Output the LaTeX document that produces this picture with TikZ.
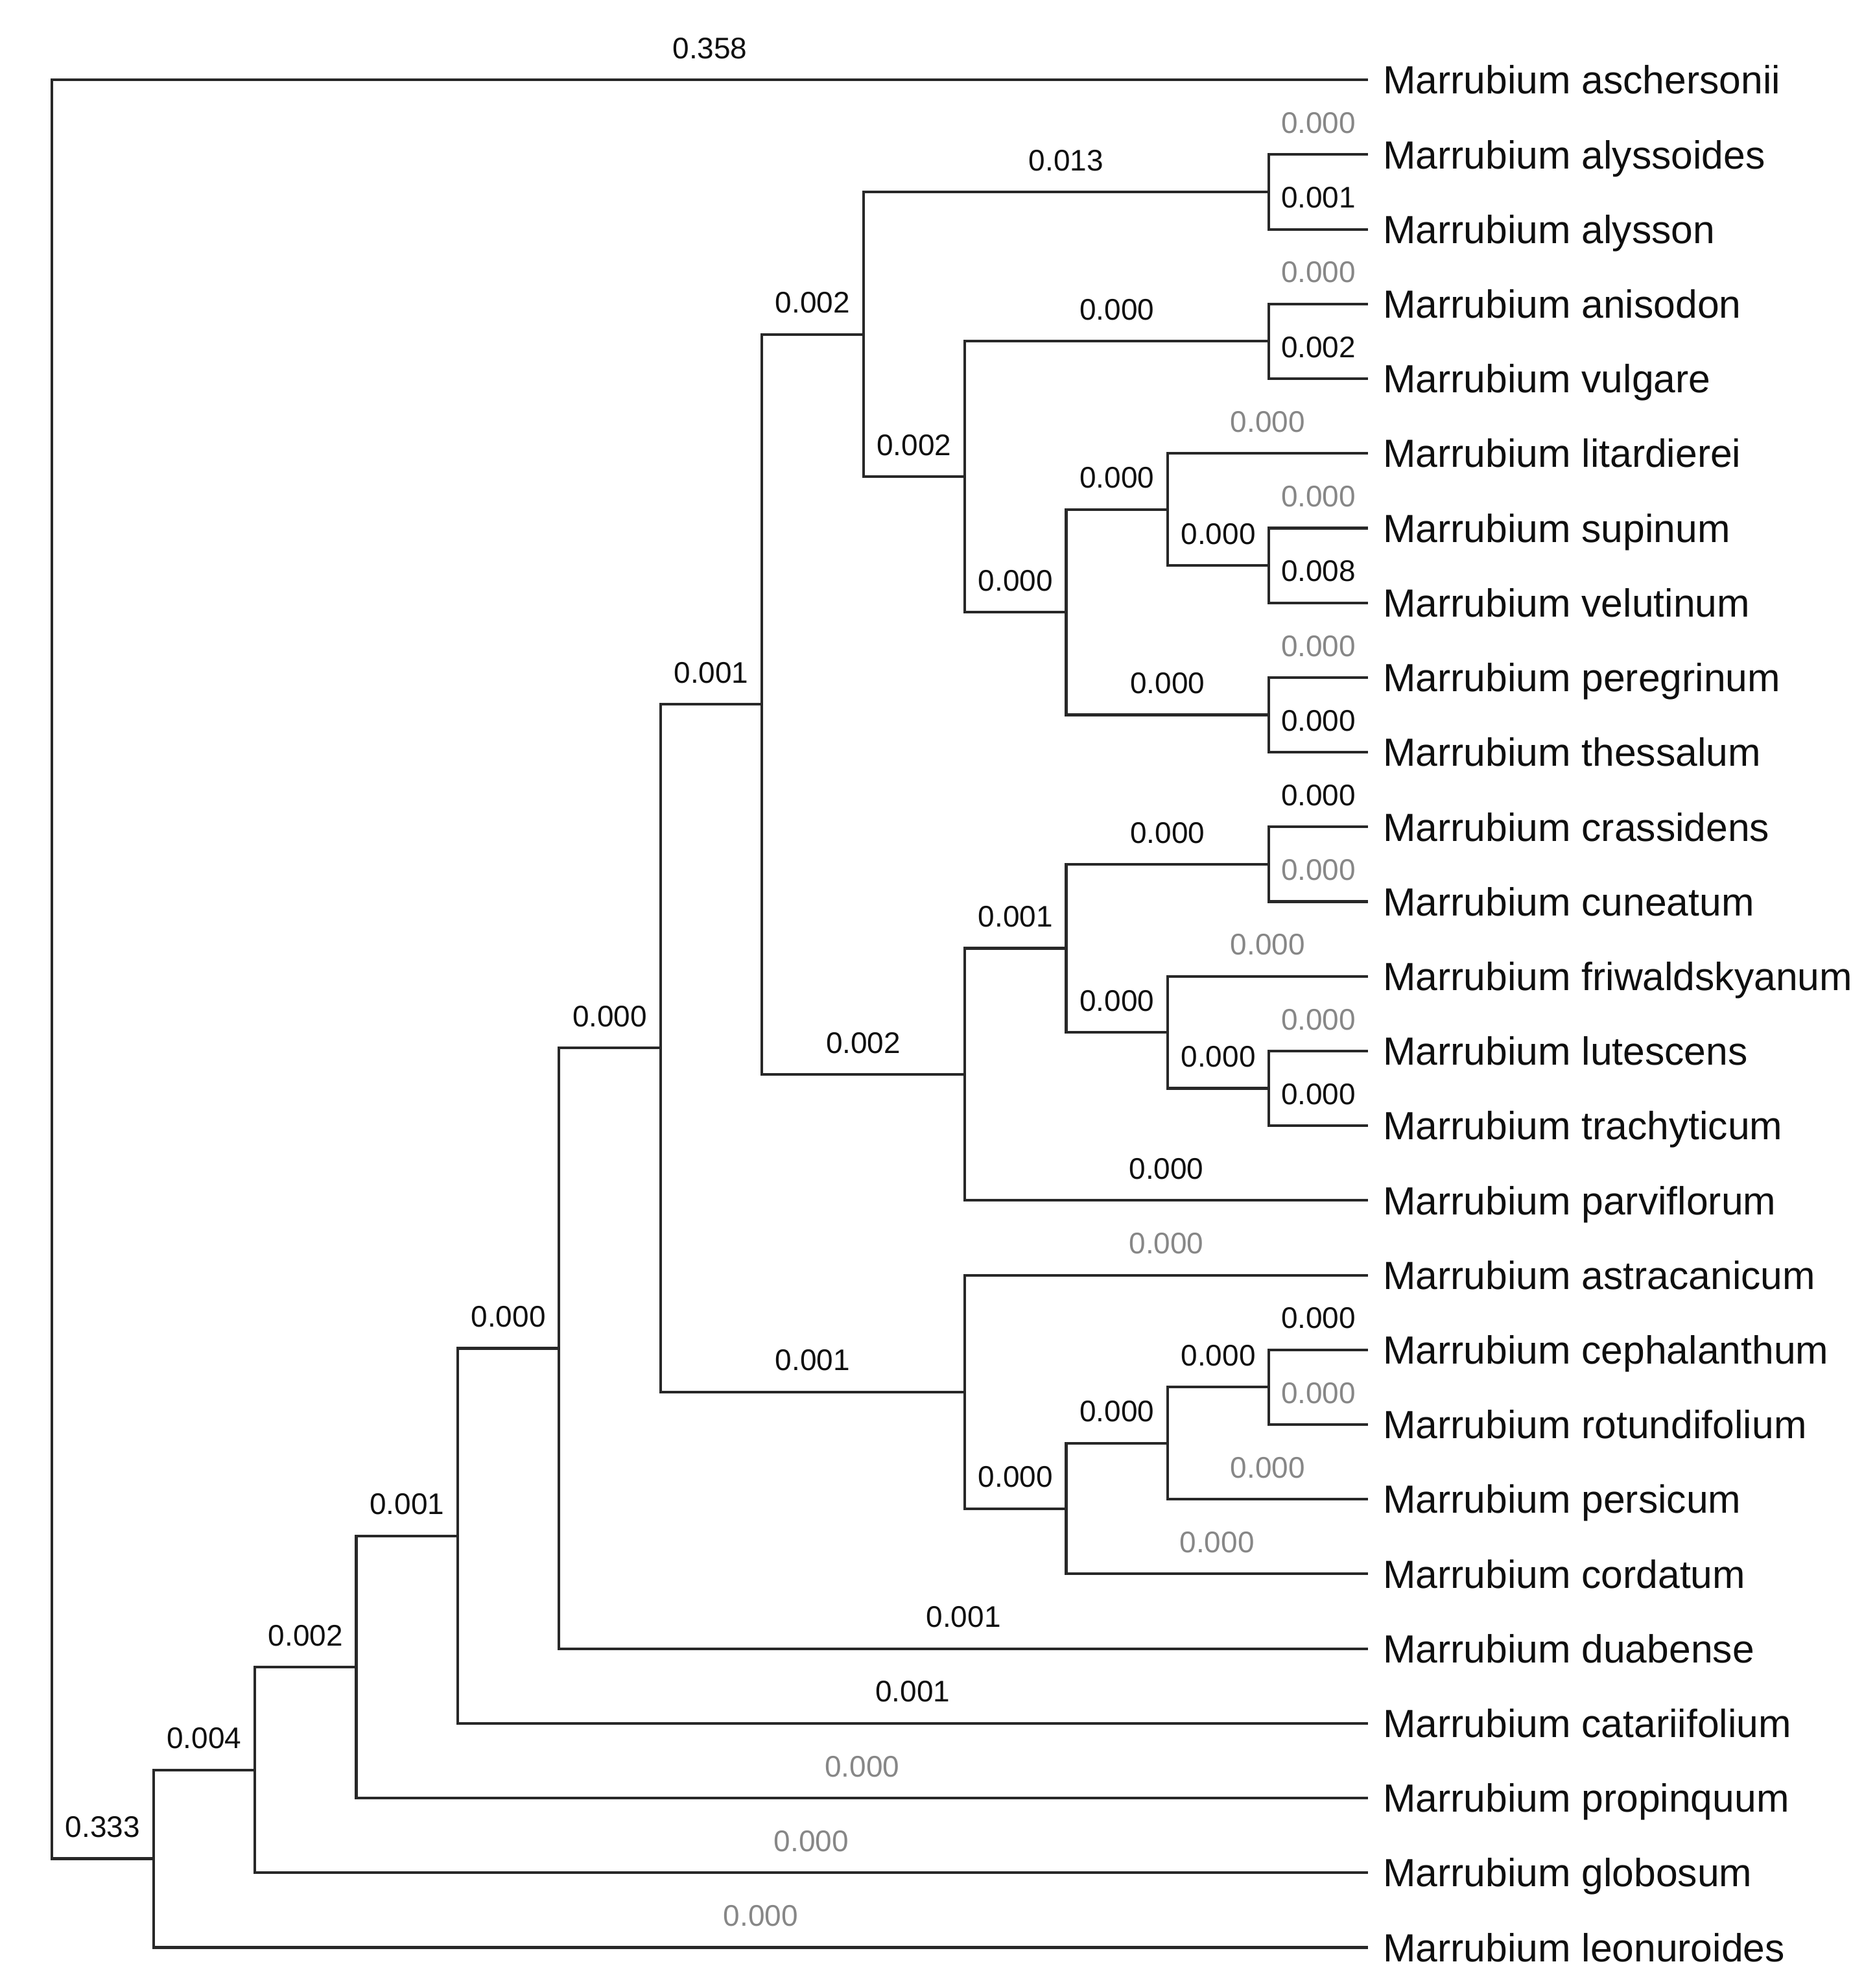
\documentclass[tikz,border=0pt]{standalone}
\usepackage{fontspec}
\newfontfamily\labfont{Liberation Sans}
\definecolor{branchcol}{RGB}{40,40,40}
\definecolor{numblack}{RGB}{15,15,15}
\definecolor{numgray}{RGB}{135,135,135}
\begin{document}
\begin{tikzpicture}[x=1pt,y=-1pt,
  br/.style={draw=branchcol,line width=2.1pt},
  lb/.style={pos=0.75,anchor=base,yshift=16.8pt,inner sep=0pt,text=numblack,font=\labfont\fontsize{23.5}{28}\selectfont},
  lg/.style={lb,text=numgray},
  taxon/.style={anchor=base west,yshift=-11.1pt,inner sep=0pt,text=numblack,font=\labfont\fontsize{31}{36}\selectfont}]
\useasboundingbox (0,0) rectangle (1479,1568);
% leaf tips
\coordinate (l0) at (1079,63);
\coordinate (l1) at (1079,121.92);
\coordinate (l2) at (1079,180.84);
\coordinate (l3) at (1079,239.76);
\coordinate (l4) at (1079,298.68);
\coordinate (l5) at (1079,357.6);
\coordinate (l6) at (1079,416.52);
\coordinate (l7) at (1079,475.44);
\coordinate (l8) at (1079,534.36);
\coordinate (l9) at (1079,593.28);
\coordinate (l10) at (1079,652.2);
\coordinate (l11) at (1079,711.12);
\coordinate (l12) at (1079,770.04);
\coordinate (l13) at (1079,828.96);
\coordinate (l14) at (1079,887.88);
\coordinate (l15) at (1079,946.8);
\coordinate (l16) at (1079,1005.72);
\coordinate (l17) at (1079,1064.64);
\coordinate (l18) at (1079,1123.56);
\coordinate (l19) at (1079,1182.48);
\coordinate (l20) at (1079,1241.4);
\coordinate (l21) at (1079,1300.32);
\coordinate (l22) at (1079,1359.24);
\coordinate (l23) at (1079,1418.16);
\coordinate (l24) at (1079,1477.08);
\coordinate (l25) at (1079,1536);
% internal nodes
\coordinate (root) at (41,764.5);
\coordinate (A) at (121,1465.96);
\coordinate (B) at (201,1395.92);
\coordinate (C) at (281,1314.76);
\coordinate (D) at (361,1211.36);
\coordinate (E) at (441,1063.49);
\coordinate (F) at (521,826.66);
\coordinate (G) at (601,555.53);
\coordinate (I) at (681,263.70);
\coordinate (K) at (1001,151.38);
\coordinate (L) at (761,376.01);
\coordinate (M) at (1001,269.22);
\coordinate (N) at (841,482.81);
\coordinate (O) at (921,401.79);
\coordinate (Q) at (1001,445.98);
\coordinate (P) at (1001,563.82);
\coordinate (J) at (761,847.37);
\coordinate (R) at (841,747.95);
\coordinate (S) at (1001,681.66);
\coordinate (T) at (921,814.23);
\coordinate (U) at (1001,858.42);
\coordinate (H) at (761,1097.78);
\coordinate (V) at (841,1189.85);
\coordinate (W) at (921,1138.29);
\coordinate (X) at (1001,1094.1);
% branches
\draw[br] (root) |- node[lb] {0.358} (l0);
\draw[br] (root) |- node[lb] {0.333} (A);
\draw[br] (A) |- node[lb] {0.004} (B);
\draw[br] (A) |- node[lg] {0.000} (l25);
\draw[br] (B) |- node[lb] {0.002} (C);
\draw[br] (B) |- node[lg] {0.000} (l24);
\draw[br] (C) |- node[lb] {0.001} (D);
\draw[br] (C) |- node[lg] {0.000} (l23);
\draw[br] (D) |- node[lb] {0.000} (E);
\draw[br] (D) |- node[lb] {0.001} (l22);
\draw[br] (E) |- node[lb] {0.000} (F);
\draw[br] (E) |- node[lb] {0.001} (l21);
\draw[br] (F) |- node[lb] {0.001} (G);
\draw[br] (F) |- node[lb] {0.001} (H);
\draw[br] (G) |- node[lb] {0.002} (I);
\draw[br] (G) |- node[lb] {0.002} (J);
\draw[br] (I) |- node[lb] {0.013} (K);
\draw[br] (I) |- node[lb] {0.002} (L);
\draw[br] (K) |- node[lg] {0.000} (l1);
\draw[br] (K) |- node[lb] {0.001} (l2);
\draw[br] (L) |- node[lb] {0.000} (M);
\draw[br] (L) |- node[lb] {0.000} (N);
\draw[br] (M) |- node[lg] {0.000} (l3);
\draw[br] (M) |- node[lb] {0.002} (l4);
\draw[br] (N) |- node[lb] {0.000} (O);
\draw[br] (N) |- node[lb] {0.000} (P);
\draw[br] (O) |- node[lg] {0.000} (l5);
\draw[br] (O) |- node[lb] {0.000} (Q);
\draw[br] (Q) |- node[lg] {0.000} (l6);
\draw[br] (Q) |- node[lb] {0.008} (l7);
\draw[br] (P) |- node[lg] {0.000} (l8);
\draw[br] (P) |- node[lb] {0.000} (l9);
\draw[br] (J) |- node[lb] {0.001} (R);
\draw[br] (J) |- node[lb] {0.000} (l15);
\draw[br] (R) |- node[lb] {0.000} (S);
\draw[br] (R) |- node[lb] {0.000} (T);
\draw[br] (S) |- node[lb] {0.000} (l10);
\draw[br] (S) |- node[lg] {0.000} (l11);
\draw[br] (T) |- node[lg] {0.000} (l12);
\draw[br] (T) |- node[lb] {0.000} (U);
\draw[br] (U) |- node[lg] {0.000} (l13);
\draw[br] (U) |- node[lb] {0.000} (l14);
\draw[br] (H) |- node[lg] {0.000} (l16);
\draw[br] (H) |- node[lb] {0.000} (V);
\draw[br] (V) |- node[lb] {0.000} (W);
\draw[br] (V) |- node[lg] {0.000} (l20);
\draw[br] (W) |- node[lb] {0.000} (X);
\draw[br] (W) |- node[lg] {0.000} (l19);
\draw[br] (X) |- node[lb] {0.000} (l17);
\draw[br] (X) |- node[lg] {0.000} (l18);
% taxon labels
\node[taxon] (t0) at (1090.7,63) {Marrubium aschersonii};
\node[taxon] (t1) at (1090.7,121.92) {Marrubium alyssoides};
\node[taxon] (t2) at (1090.7,180.84) {Marrubium alysson};
\node[taxon] (t3) at (1090.7,239.76) {Marrubium anisodon};
\node[taxon] (t4) at (1090.7,298.68) {Marrubium vulgare};
\node[taxon] (t5) at (1090.7,357.6) {Marrubium litardierei};
\node[taxon] (t6) at (1090.7,416.52) {Marrubium supinum};
\node[taxon] (t7) at (1090.7,475.44) {Marrubium velutinum};
\node[taxon] (t8) at (1090.7,534.36) {Marrubium peregrinum};
\node[taxon] (t9) at (1090.7,593.28) {Marrubium thessalum};
\node[taxon] (t10) at (1090.7,652.2) {Marrubium crassidens};
\node[taxon] (t11) at (1090.7,711.12) {Marrubium cuneatum};
\node[taxon] (t12) at (1090.7,770.04) {Marrubium friwaldskyanum};
\node[taxon] (t13) at (1090.7,828.96) {Marrubium lutescens};
\node[taxon] (t14) at (1090.7,887.88) {Marrubium trachyticum};
\node[taxon] (t15) at (1090.7,946.8) {Marrubium parviflorum};
\node[taxon] (t16) at (1090.7,1005.72) {Marrubium astracanicum};
\node[taxon] (t17) at (1090.7,1064.64) {Marrubium cephalanthum};
\node[taxon] (t18) at (1090.7,1123.56) {Marrubium rotundifolium};
\node[taxon] (t19) at (1090.7,1182.48) {Marrubium persicum};
\node[taxon] (t20) at (1090.7,1241.4) {Marrubium cordatum};
\node[taxon] (t21) at (1090.7,1300.32) {Marrubium duabense};
\node[taxon] (t22) at (1090.7,1359.24) {Marrubium catariifolium};
\node[taxon] (t23) at (1090.7,1418.16) {Marrubium propinquum};
\node[taxon] (t24) at (1090.7,1477.08) {Marrubium globosum};
\node[taxon] (t25) at (1090.7,1536) {Marrubium leonuroides};
\end{tikzpicture}
\end{document}
